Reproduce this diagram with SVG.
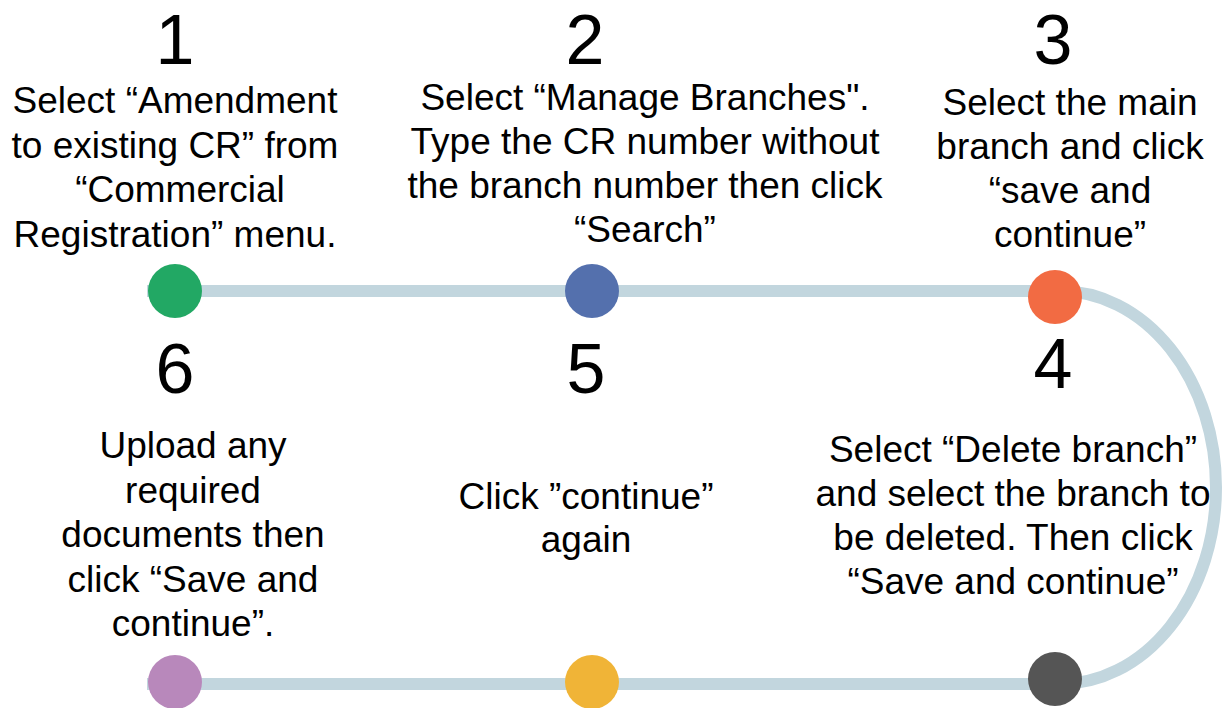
<svg xmlns="http://www.w3.org/2000/svg" width="1223" height="708" viewBox="0 0 1223 708">
  <style>
    .num { font-family: "Liberation Sans", Arial, sans-serif; font-size: 70px; fill: #000; text-anchor: middle; }
    .txt { font-family: "Liberation Sans", Arial, sans-serif; font-size: 37px; fill: #000; text-anchor: middle; }
    .track { fill: none; stroke: #c2d6de; stroke-width: 12; }
  </style>
  <rect width="1223" height="708" fill="#ffffff"/>

  <!-- track: top run, right-hand bend, bottom run -->
  <g id="connectors">
    <path class="track" d="M147,291 H1060 A156,196.5 0 0 1 1060,684 H147"/>
  </g>

  <g id="step1">
    <circle cx="175" cy="291" r="27" fill="#22a864"/>
    <text class="num" x="175" y="64">1</text>
    <text class="txt" x="175" y="113">Select “Amendment</text>
    <text class="txt" x="175" y="158">to existing CR” from</text>
    <text class="txt" x="180" y="202">“Commercial</text>
    <text class="txt" x="175" y="247">Registration” menu.</text>
  </g>

  <g id="step2">
    <circle cx="592" cy="291" r="27" fill="#5470ad"/>
    <text class="num" x="585" y="64">2</text>
    <text class="txt" x="645" y="110">Select “Manage Branches".</text>
    <text class="txt" x="645" y="154">Type the CR number without</text>
    <text class="txt" x="645" y="198">the branch number then click</text>
    <text class="txt" x="645" y="242">“Search”</text>
  </g>

  <g id="step3">
    <circle cx="1055" cy="297" r="27" fill="#f26b43"/>
    <text class="num" x="1053" y="64">3</text>
    <text class="txt" x="1070" y="115">Select the main</text>
    <text class="txt" x="1070" y="159">branch and click</text>
    <text class="txt" x="1070" y="203">“save and</text>
    <text class="txt" x="1070" y="247">continue”</text>
  </g>

  <g id="step4">
    <circle cx="1055" cy="679" r="27" fill="#555555"/>
    <text class="num" x="1053" y="388">4</text>
    <text class="txt" x="1013" y="462">Select “Delete branch”</text>
    <text class="txt" x="1013" y="506">and select the branch to</text>
    <text class="txt" x="1013" y="550">be deleted. Then click</text>
    <text class="txt" x="1013" y="594">“Save and continue”</text>
  </g>

  <g id="step5">
    <circle cx="592" cy="682" r="27" fill="#f0b437"/>
    <text class="num" x="586" y="393">5</text>
    <text class="txt" x="586" y="509">Click ”continue”</text>
    <text class="txt" x="586" y="552">again</text>
  </g>

  <g id="step6">
    <circle cx="175" cy="682" r="27" fill="#b888bb"/>
    <text class="num" x="175" y="393">6</text>
    <text class="txt" x="193" y="458">Upload any</text>
    <text class="txt" x="193" y="503">required</text>
    <text class="txt" x="193" y="547">documents then</text>
    <text class="txt" x="193" y="592">click “Save and</text>
    <text class="txt" x="193" y="636">continue”.</text>
  </g>
</svg>
